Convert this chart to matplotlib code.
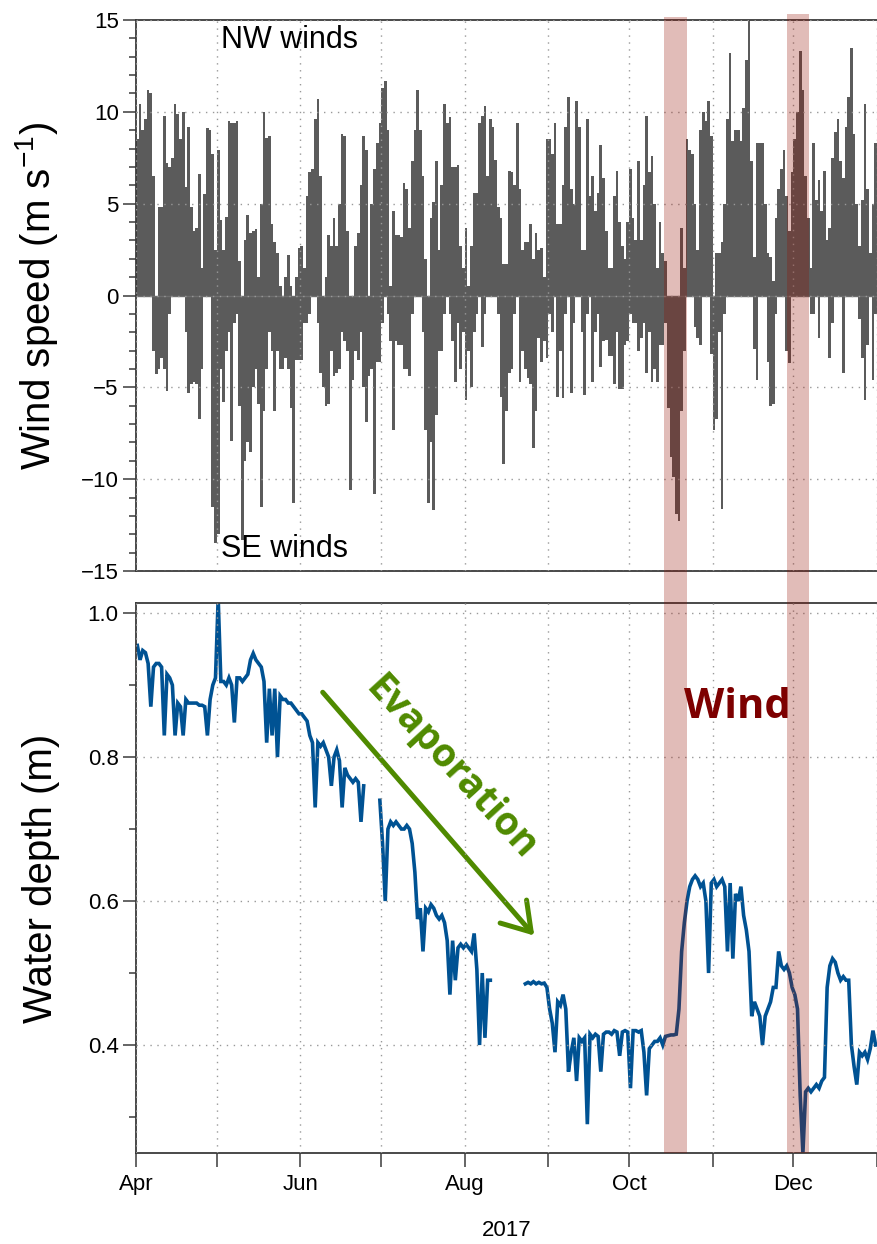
import numpy as np
import pandas as pd
import matplotlib
matplotlib.use('Agg')
import matplotlib.pyplot as plt
import matplotlib.dates as mdates
from matplotlib.patches import Rectangle, FancyArrowPatch
from matplotlib.transforms import blended_transform_factory

plt.rcParams['font.family'] = ['Liberation Sans', 'DejaVu Sans']

START = '2017-04-01'

# daily peak NW (positive) wind speed, m/s
nw_apr = [8.5, 10.4, 9.0, 9.6, 11.2, 11.0, 6.5, 0.0, 4.8, 4.8,
          9.8, 7.2, 7.0, 7.5, 10.4, 9.9, 8.5, 10.0, 5.9, 9.2,
          4.8, 3.5, 3.7, 6.6, 1.5, 5.5, 9.1, 9.0, 7.7, 2.5]
nw_may = [7.9, 4.1, 2.5, 4.3, 9.5, 9.4, 9.4, 9.5, 1.9, 0.0,
          3.0, 4.4, 3.4, 3.5, 3.6, 1.0, 5.0, 10.0, 8.6, 8.7,
          3.9, 2.9, 2.3, 0.5, 0.0, 1.0, 2.2, 0.5, 0.0, 1.0,
          2.6]
nw_jun = [2.7, 1.5, 5.4, 6.7, 6.9, 9.6, 10.7, 6.5, 0.0, 1.0,
          3.3, 2.7, 4.2, 2.7, 5.0, 8.8, 8.7, 3.5, 0.0, 0.0,
          2.7, 3.4, 6.0, 8.7, 7.9, 0.0, 5.0, 6.9, 8.3, 9.4]
nw_jul = [11.3, 11.7, 9.0, 0.5, 4.6, 3.3, 3.3, 3.2, 6.1, 5.8,
          3.7, 7.3, 9.0, 11.2, 9.0, 6.5, 2.0, 0.0, 4.2, 5.1,
          7.3, 2.5, 6.0, 10.4, 9.4, 9.7, 7.0, 7.0, 7.1, 2.7,
          1.5]
nw_aug = [3.7, 0.5, 2.7, 5.6, 5.6, 9.4, 9.8, 10.3, 6.5, 9.6,
          9.2, 7.4, 4.8, 4.2, 1.7, 1.7, 6.8, 6.7, 6.0, 9.4,
          5.8, 2.5, 2.9, 2.9, 3.9, 2.0, 3.4, 2.5, 2.6, 1.0,
          8.5]
nw_sep = [8.5, 7.7, 9.4, 3.9, 3.9, 6.0, 9.2, 10.8, 5.8, 5.0,
          10.6, 9.2, 2.5, 2.5, 9.6, 5.4, 6.5, 4.6, 5.6, 8.2,
          6.4, 3.5, 1.5, 1.5, 5.4, 6.8, 4.0, 2.7, 2.0, 4.0]
nw_oct = [6.9, 4.2, 3.0, 7.3, 3.0, 6.0, 9.8, 6.7, 7.6, 5.0,
          1.5, 4.0, 2.3, 1.9, 0.0, 0.0, 0.0, 0.0, 0.0, 3.7,
          1.5, 8.5, 7.9, 7.7, 5.0, 2.5, 9.0, 10.0, 9.5, 10.6,
          8.7]
nw_nov = [0.0, 2.3, 2.3, 2.9, 5.0, 9.6, 13.2, 8.4, 9.0, 9.0,
          8.4, 10.2, 12.8, 15.0, 7.3, 2.1, 8.3, 8.3, 8.3, 5.0,
          2.3, 2.1, 0.8, 4.2, 5.8, 6.9, 7.9, 5.4, 3.5, 6.7]
nw_dec = [8.5, 10.0, 13.3, 11.2, 6.5, 4.2, 1.5, 8.3, 5.2, 6.3,
          4.6, 6.8, 3.0, 3.7, 7.5, 8.9, 9.6, 7.3, 6.4, 9.2,
          10.8, 13.5, 8.8, 5.0, 2.7, 5.2, 10.4, 5.8, 2.3, 5.0,
          8.3]

# daily peak SE (negative) wind speed, m/s
se_apr = [0, 0, 0, 0, 0, 0, -3.0, -4.3, -4.0, -3.4,
          -4.0, -5.2, -1.0, 0, 0, 0, 0, 0, -2.0, -5.3,
          -4.8, -4.7, -4.8, -6.7, -4.0, 0, 0, 0, -11.5, -13.5]
se_may = [-13.0, -4.0, -5.8, -3.0, -2.0, -7.9, -1.5, -1.0, -6.0, -13.3,
          -9.0, -8.0, -8.5, -5.0, -4.0, -5.9, -11.5, -6.3, -4.0, -2.0,
          -3.0, -6.3, -3.0, -4.0, -4.0, -3.4, -4.0, -6.1, -11.3, -3.5,
          -3.5]
se_jun = [-3.5, -1.5, -1.5, -1.0, 0, 0, -1.5, -4.2, -5.0, -6.0,
          -5.9, -3.0, -4.4, -4.2, -4.0, -2.0, -2.5, -3.0, -10.6, -4.6,
          -3.0, -3.5, -2.0, -5.0, -6.9, -4.4, -4.0, -10.8, -3.6, -3.6]
se_jul = [-1.5, 0, -1.0, -2.5, -7.3, -2.5, -2.7, -2.7, -4.0, -4.0,
          -4.4, -1.0, 0, 0, 0, -2.0, -7.3, -11.3, -8.0, -11.7,
          -6.5, -3.0, -3.0, -1.0, 0, -1.0, -2.5, -4.7, -1.5, -4.0,
          -2.0]
se_aug = [-5.7, -3.0, -5.0, -2.0, -1.0, 0, -2.8, -1.0, 0, 0,
          0, 0, -1.0, -5.5, -9.2, -6.3, -4.2, -4.0, -1.0, 0,
          -4.7, -3.0, -4.0, -4.5, -4.8, -8.3, -6.3, -2.3, -3.6, -2.5,
          -3.4]
se_sep = [-1.0, -2.0, 0, -5.5, -3.0, -5.6, -1.0, 0, -5.3, -1.5,
          0, 0, -2.0, -5.4, -1.0, 0, -4.7, -2.0, -1.0, -3.9,
          -2.5, -2.4, -3.3, -3.3, -4.8, -2.0, -5.1, -5.1, -2.7, -2.5]
se_oct = [-1.0, -1.5, -1.5, -3.0, -2.3, -1.5, -4.2, -2.0, -4.7, -4.0,
          -4.7, -2.7, -2.7, -1.5, -6.1, -8.8, -9.9, -11.9, -12.3, -6.3,
          -3.0, 0, 0, 0, -1.7, -2.3, -2.7, 0, 0, 0,
          -3.2]
se_nov = [-7.3, -6.7, -2.0, -11.6, -1.0, 0, 0, 0, 0, 0,
          0, 0, 0, 0, 0, -2.9, -4.6, 0, 0, 0,
          -3.6, -6.0, -5.9, -1.0, 0, 0, 0, -3.0, -3.7, 0]
se_dec = [0, 0, 0, 0, 0, 0, -1.0, -1.0, 0, -2.3,
          0, 0, 0, -3.4, -1.5, 0, 0, 0, -4.2, 0,
          0, 0, 0, 0, -1.3, -3.4, -5.7, -2.7, 0, -4.6,
          -1.0]

nan = np.nan
# daily water depth, m (nan = logger gap)
depth_apr = [0.955, 0.935, 0.948, 0.945, 0.93, 0.87, 0.925, 0.93, 0.93, 0.925,
             0.83, 0.915, 0.91, 0.90, 0.83, 0.875, 0.87, 0.83, 0.88, 0.875,
             0.875, 0.875, 0.875, 0.872, 0.872, 0.87, 0.83, 0.88, 0.90, 0.91]
depth_may = [1.02, 0.905, 0.905, 0.90, 0.91, 0.90, 0.848, 0.91, 0.91, 0.905,
             0.91, 0.915, 0.935, 0.944, 0.935, 0.93, 0.925, 0.905, 0.82, 0.895,
             0.83, 0.895, 0.80, 0.885, 0.88, 0.88, 0.875, 0.875, 0.87, 0.865,
             0.86]
depth_jun = [0.86, 0.855, 0.85, 0.83, 0.82, 0.73, 0.82, 0.815, 0.82, 0.81,
             0.80, 0.76, 0.80, 0.81, 0.795, 0.73, 0.785, 0.775, 0.77, 0.765,
             0.77, 0.765, 0.71, 0.76, nan, nan, nan, nan, nan, 0.74]
depth_jul = [0.68, 0.60, 0.70, 0.71, 0.705, 0.71, 0.705, 0.70, 0.70, 0.705,
             0.70, 0.68, 0.64, 0.575, 0.59, 0.53, 0.59, 0.585, 0.595, 0.59,
             0.58, 0.575, 0.58, 0.57, 0.545, 0.47, 0.545, 0.49, 0.535, 0.54,
             0.535]
depth_aug = [0.54, 0.535, 0.53, 0.555, 0.505, 0.40, 0.50, 0.41, 0.49, 0.49,
             nan, nan, nan, nan, nan, nan, nan, nan, nan, nan,
             nan, nan, 0.485, 0.487, 0.485, 0.488, 0.485, 0.487, 0.485, 0.486,
             0.48]
depth_sep = [0.45, 0.43, 0.39, 0.46, 0.455, 0.47, 0.45, 0.363, 0.39, 0.41,
             0.35, 0.41, 0.405, 0.41, 0.29, 0.415, 0.41, 0.415, 0.412, 0.363,
             0.415, 0.418, 0.418, 0.415, 0.42, 0.418, 0.385, 0.418, 0.42, 0.418]
depth_oct = [0.34, 0.42, 0.42, 0.418, 0.42, 0.39, 0.33, 0.395, 0.40, 0.405,
             0.405, 0.41, 0.40, 0.412, 0.413, 0.414, 0.414, 0.415, 0.45, 0.53,
             0.57, 0.60, 0.62, 0.63, 0.635, 0.63, 0.62, 0.625, 0.60, 0.50,
             0.625]
depth_nov = [0.63, 0.62, 0.625, 0.63, 0.62, 0.53, 0.625, 0.52, 0.61, 0.60,
             0.62, 0.58, 0.56, 0.53, 0.44, 0.46, 0.45, 0.44, 0.40, 0.44,
             0.45, 0.46, 0.48, 0.48, 0.53, 0.51, 0.505, 0.51, 0.50, 0.48]
depth_dec = [0.47, 0.45, 0.33, 0.25, 0.335, 0.34, 0.335, 0.34, 0.345, 0.34,
             0.35, 0.355, 0.48, 0.51, 0.52, 0.515, 0.50, 0.49, 0.495, 0.49,
             0.49, 0.40, 0.37, 0.345, 0.39, 0.385, 0.39, 0.38, 0.395, 0.42,
             0.40]

# strong wind events
wind_events = [('2017-10-13 22:00', '2017-10-22 08:00'),
               ('2017-11-28 12:00', '2017-12-06 22:00')]

nw = nw_apr + nw_may + nw_jun + nw_jul + nw_aug + nw_sep + nw_oct + nw_nov + nw_dec
se = se_apr + se_may + se_jun + se_jul + se_aug + se_sep + se_oct + se_nov + se_dec
depth = (depth_apr + depth_may + depth_jun + depth_jul + depth_aug + depth_sep
         + depth_oct + depth_nov + depth_dec)

days = pd.date_range(START, periods=len(nw), freq='D') + pd.Timedelta(hours=12)

W, H = 877, 1244
fig = plt.figure(figsize=(W / 100, H / 100), dpi=100)
ax1 = fig.add_axes([136 / W, 1 - 571 / H, (W - 136) / W, 551 / H])
ax2 = fig.add_axes([136 / W, 1 - 1153 / H, (W - 136) / W, 550 / H])

grey = '#5b5b5b'
spine_c = '#3a3a3a'
grid_kw = dict(color='#999999', linestyle=(0, (1, 4)), linewidth=1.0)
label_font = ['Open Sans', 'Noto Sans', 'DejaVu Sans']

# wind speed
ax1.bar(days, nw, width=1.0, color=grey, linewidth=0)
ax1.bar(days, se, width=1.0, color=grey, linewidth=0)
ax1.axhline(0, color='#6e6e6e', lw=1.0)
ax1.set_ylim(-15, 15)
ax1.set_yticks([-15, -10, -5, 0, 5, 10, 15])
ax1.set_yticks(np.arange(-15, 16, 1), minor=True)
ax1.set_ylabel(r'Wind speed (m s$^{\mathregular{-1}}$)', fontsize=29)
ax1.text(pd.Timestamp('2017-05-02 12:00'), 13.9, 'NW winds', fontsize=22, va='center')
ax1.text(pd.Timestamp('2017-05-02 12:00'), -13.8, 'SE winds', fontsize=22, va='center')

# water depth
ax2.plot(days, depth, color='#005293', lw=2.6, solid_joinstyle='miter')
ax2.set_ylim(0.25, 1.014)
ax2.set_yticks([0.4, 0.6, 0.8, 1.0])
ax2.set_yticks([0.3, 0.5, 0.7, 0.9], minor=True)
ax2.yaxis.set_major_formatter(plt.FuncFormatter(lambda v, p: f'{v:.1f}'))
ax2.set_ylabel('Water depth (m)', fontsize=29)
ax2.set_xlabel('2017', fontsize=16, labelpad=18)

ax2.text(pd.Timestamp('2017-11-10 07:00'), 0.869, 'Wind', fontsize=30,
         fontweight='bold', family=label_font, color='#7d0000',
         ha='center', va='center')
ax2.text(pd.Timestamp('2017-07-27'), 0.784, 'Evaporation', fontsize=28,
         fontweight='bold', family=label_font, color='#4f8a00',
         ha='center', va='center', rotation=-47.5, rotation_mode='anchor')
arrow = FancyArrowPatch((mdates.date2num(pd.Timestamp('2017-06-09 07:00')), 0.89),
                        (mdates.date2num(pd.Timestamp('2017-08-26 19:00')), 0.552),
                        arrowstyle='->,head_length=0.7,head_width=0.45',
                        mutation_scale=28, color='#4f8a00', lw=3.6,
                        shrinkA=0, shrinkB=0)
ax2.add_patch(arrow)

month_fmt = plt.FuncFormatter(
    lambda v, p: mdates.num2date(v).strftime('%b') if mdates.num2date(v).month % 2 == 0 else '')
for ax in (ax1, ax2):
    ax.set_xlim(pd.Timestamp(START), pd.Timestamp('2018-01-01'))
    ax.xaxis.set_major_locator(mdates.MonthLocator())
    ax.grid(True, which='major', **grid_kw)
    ax.set_axisbelow(False)
    ax.spines['right'].set_visible(False)
    for s in ('left', 'top', 'bottom'):
        ax.spines[s].set_color(spine_c)
        ax.spines[s].set_linewidth(1.3)
    ax.tick_params(axis='y', which='major', length=9.5, width=1.1, color=spine_c,
                   labelsize=16, pad=3)
    ax.tick_params(axis='y', which='minor', length=5, width=1.1, color=spine_c)
    ax.yaxis.set_label_coords(-0.1026, 0.5)

ax1.tick_params(axis='x', which='both', length=0, labelbottom=False)
ax2.xaxis.set_major_formatter(month_fmt)
ax2.tick_params(axis='x', which='major', length=10, width=1.1, color=spine_c,
                labelsize=16, pad=5)

# shaded wind events across both panels
trans = blended_transform_factory(ax2.transData, fig.transFigure)
for (a, b), top in zip(wind_events, (1 - 17 / H, 1 - 14 / H)):
    x0 = mdates.date2num(pd.Timestamp(a))
    x1 = mdates.date2num(pd.Timestamp(b))
    fig.patches.append(Rectangle((x0, 1 - 1153 / H), x1 - x0, top - (1 - 1153 / H),
                                 transform=trans, facecolor=(0.58, 0.06, 0.0),
                                 alpha=0.28, linewidth=0, zorder=5))

fig.savefig('out.png', dpi=100)
